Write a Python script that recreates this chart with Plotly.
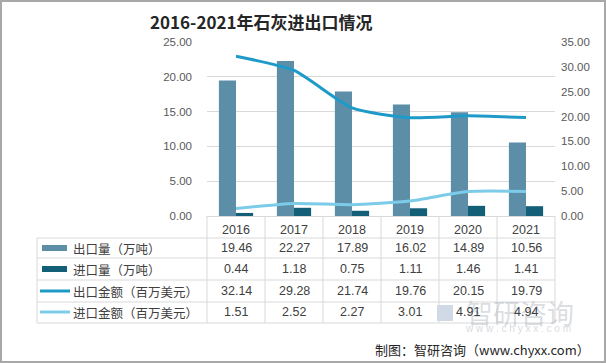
import plotly.graph_objects as go

years = ["2016", "2017", "2018", "2019", "2020", "2021"]
export_vol = [19.46, 22.27, 17.89, 16.02, 14.89, 10.56]
import_vol = [0.44, 1.18, 0.75, 1.11, 1.46, 1.41]
export_amt = [32.14, 29.28, 21.74, 19.76, 20.15, 19.79]
import_amt = [1.51, 2.52, 2.27, 3.01, 4.91, 4.94]
series_names = ["出口量（万吨）", "进口量（万吨）", "出口金额（百万美元）", "进口金额（百万美元）"]
series_values = [export_vol, import_vol, export_amt, import_amt]
left_ticks = [0, 5, 10, 15, 20, 25]
right_ticks = [0, 5, 10, 15, 20, 25, 30, 35]

C_EXP_VOL = "#5d8ea8"
C_IMP_VOL = "#135f78"
C_EXP_AMT = "#1e9ac8"
C_IMP_AMT = "#7ccbe8"
colors = [C_EXP_VOL, C_IMP_VOL, C_EXP_AMT, C_IMP_AMT]
kinds = ["bar", "bar", "line", "line"]

W, H = 606, 363
L, R, T, B = 207, 555, 42, 216
CJK = "Noto Sans CJK SC"
NUM = "Liberation Sans"


def px(x):
    return (x - L) / (R - L)


def py(y):
    return (B - y) / (B - T)


fig = go.Figure()
fig.add_bar(x=years, y=export_vol, name=series_names[0], marker_color=C_EXP_VOL,
            marker_line_width=0)
fig.add_bar(x=years, y=import_vol, name=series_names[1], marker_color=C_IMP_VOL,
            marker_line_width=0)
fig.add_scatter(x=years, y=export_amt, name=series_names[2], mode="lines", yaxis="y2",
                line=dict(color=C_EXP_AMT, width=3, shape="spline", smoothing=0.6))
fig.add_scatter(x=years, y=import_amt, name=series_names[3], mode="lines", yaxis="y2",
                line=dict(color=C_IMP_AMT, width=3, shape="spline", smoothing=0.6))

shapes = []
grid = "#d9d9d9"
row_lines = [238, 258, 280, 302, 323]
for yy in row_lines:
    shapes.append(dict(type="line", xref="paper", yref="paper", x0=px(37), x1=px(R),
                       y0=py(yy), y1=py(yy), line=dict(color=grid, width=1)))
shapes.append(dict(type="line", xref="paper", yref="paper", x0=px(37), x1=px(37),
                   y0=py(238), y1=py(323), line=dict(color=grid, width=1)))
for i in range(len(years) + 1):
    xx = L + i * (R - L) / len(years)
    shapes.append(dict(type="line", xref="paper", yref="paper", x0=px(xx), x1=px(xx),
                       y0=py(B), y1=py(323), line=dict(color=grid, width=1)))

annotations = []
# watermark (drawn first, underneath)
shapes.append(dict(type="rect", xref="paper", yref="paper", x0=px(437), x1=px(453),
                   y0=py(321), y1=py(305), fillcolor="rgba(120,150,185,0.35)",
                   line=dict(width=0), layer="below"))
annotations.append(dict(text="智研咨询", xref="paper", yref="paper", x=px(520), y=py(312),
                        xanchor="center", yanchor="middle", showarrow=False,
                        font=dict(family=CJK, size=27, color="rgba(150,160,170,0.35)")))
annotations.append(dict(text="w w w . c h y x x . c o m", xref="paper", yref="paper",
                        x=px(518), y=py(328), xanchor="center", yanchor="middle",
                        showarrow=False,
                        font=dict(family=NUM, size=10, color="rgba(150,160,170,0.4)")))

row_centers = [248, 269, 291, 312]
for k in range(4):
    yc = row_centers[k]
    if kinds[k] == "bar":
        shapes.append(dict(type="rect", xref="paper", yref="paper", x0=px(42), x1=px(67),
                           y0=py(yc + 3), y1=py(yc - 3), fillcolor=colors[k],
                           line=dict(width=0)))
    else:
        shapes.append(dict(type="line", xref="paper", yref="paper", x0=px(40), x1=px(70),
                           y0=py(yc), y1=py(yc), line=dict(color=colors[k], width=3)))
    annotations.append(dict(text=series_names[k], xref="paper", yref="paper", x=px(71),
                            y=py(yc), xanchor="left", yanchor="middle", showarrow=False,
                            font=dict(family=CJK, size=12.5, color="#404040")))
    for j, yr in enumerate(years):
        annotations.append(dict(text=f"{series_values[k][j]:.2f}", xref="x", yref="paper",
                                x=j, y=py(yc), xanchor="center", yanchor="middle",
                                showarrow=False,
                                font=dict(family=NUM, size=12.5, color="#404040")))

shapes.append(dict(type="rect", xref="paper", yref="paper", x0=px(1), x1=px(W - 1),
                   y0=py(H - 1), y1=py(1), line=dict(color="#a8a8a8", width=2),
                   fillcolor="rgba(0,0,0,0)"))

annotations.append(dict(text="<b>2016-2021年石灰进出口情况</b>", xref="paper", yref="paper",
                        x=px(261), y=py(22), xanchor="center", yanchor="middle",
                        showarrow=False, font=dict(family=CJK, size=17, color="#262626")))
annotations.append(dict(text="制图：智研咨询（www.chyxx.com）", xref="paper", yref="paper",
                        x=px(592), y=py(349), xanchor="right", yanchor="middle",
                        showarrow=False, font=dict(family=CJK, size=13, color="#262626")))

fig.update_layout(
    width=W, height=H,
    margin=dict(l=L, r=W - R, t=T, b=H - B, pad=0),
    paper_bgcolor="white", plot_bgcolor="white",
    barmode="group", bargap=0.41, bargroupgap=0,
    showlegend=False,
    xaxis=dict(type="category", range=[-0.5, len(years) - 0.5], autorange=False,
               showgrid=False, showline=True, linecolor=grid,
               ticks="", tickfont=dict(family=NUM, size=12.5, color="#404040"),
               ticklabelstandoff=2),
    yaxis=dict(range=[0, 25], tickvals=left_ticks, ticktext=[f"{v:.2f}" for v in left_ticks],
               showgrid=True, gridcolor=grid, gridwidth=1, zeroline=False, showline=False,
               ticks="", tickfont=dict(family=NUM, size=11.5, color="#595959"),
               ticklabelstandoff=14),
    yaxis2=dict(range=[0, 35], tickvals=right_ticks,
                ticktext=[f"{v:.2f}" for v in right_ticks], overlaying="y", side="right",
                showgrid=False, zeroline=False, showline=False, ticks="",
                tickfont=dict(family=NUM, size=11.5, color="#595959"),
                ticklabelstandoff=5),
    shapes=shapes, annotations=annotations,
)

fig.write_html("out.html", config={"displayModeBar": False},
               post_script="document.body.style.margin='0';"
                           "document.body.style.overflow='hidden';")
